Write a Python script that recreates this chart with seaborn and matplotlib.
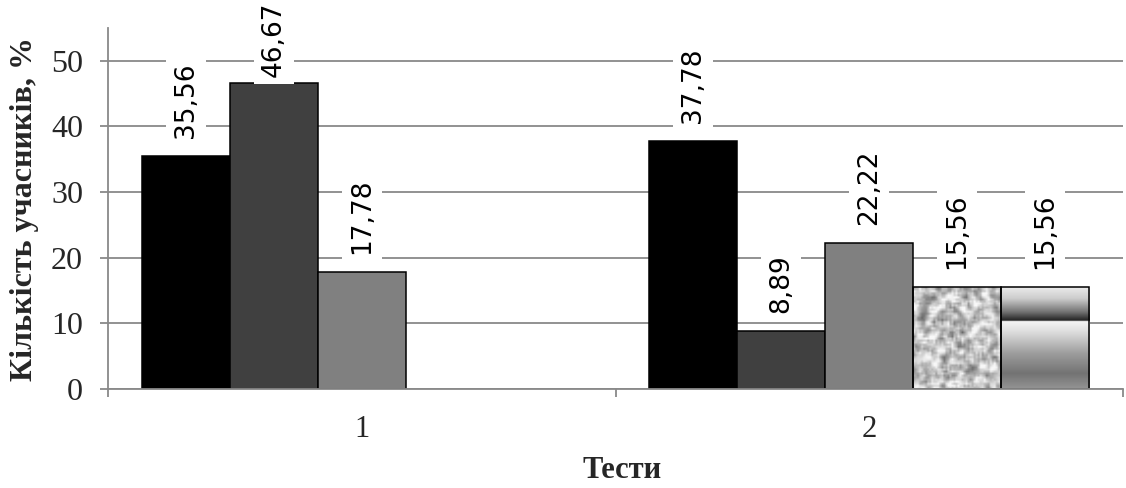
import numpy as np
import pandas as pd
import matplotlib
matplotlib.use("Agg")
import matplotlib.pyplot as plt
import seaborn as sns

# ---------------- data ----------------
tests = ["1", "2"]
series = ["Варіант 1", "Варіант 2", "Варіант 3", "Варіант 4", "Варіант 5"]
test1_values = [35.56, 46.67, 17.78]
test2_values = [37.78, 8.89, 22.22, 15.56, 15.56]
y_ticks = [0, 10, 20, 30, 40, 50]
y_label = "Кількість учасників, %"
x_label = "Тести"

rows = []
for s, v in zip(series, test1_values):
    rows.append({"test": tests[0], "series": s, "value": v})
for s, v in zip(series, test2_values):
    rows.append({"test": tests[1], "series": s, "value": v})
df = pd.DataFrame(rows)

# ---------------- style ----------------
sns.set_style("white")
plt.rcParams["font.family"] = ["Liberation Serif", "DejaVu Serif"]
grid_col = "#898989"
colors = ["#000000", "#404040", "#808080", "#c8c8c8", "#a0a0a0"]

W, H = 1126, 488
fig = plt.figure(figsize=(W / 100, H / 100), dpi=100)
ax = fig.add_axes([108 / W, 1 - 389 / H, (1123 - 108) / W, (389 - 28) / H])

sns.barplot(data=df, x="test", y="value", hue="series", order=tests,
            hue_order=series, palette=colors, saturation=1, width=0.867,
            edgecolor="black", linewidth=1.1, errorbar=None, legend=False, ax=ax)

ymax = 55
ax.set_ylim(0, ymax)
ax.set_xlim(-0.5, 1.5)

# textures for series 4 and 5
rng = np.random.default_rng(11)
def granite(h, w):
    n = rng.random((h + 2, w + 2))
    n = (n[:-2, :-2] + n[1:-1, :-2] + n[2:, :-2] + n[:-2, 1:-1] + n[1:-1, 1:-1]
         + n[2:, 1:-1] + n[:-2, 2:] + n[1:-1, 2:] + n[2:, 2:]) / 9.0
    n = (n - n.mean()) / n.std()
    return np.clip(0.76 + 0.12 * n, 0.25, 0.97)

def metal(h):
    f = np.linspace(0, 1, h)
    nodes = [0.0, 0.12, 0.25, 0.335, 0.34, 0.45, 0.65, 0.85, 1.0]
    vals = [0.93, 0.80, 0.45, 0.13, 0.96, 0.86, 0.62, 0.45, 0.58]
    col = np.interp(f, nodes, vals)
    return np.tile(col[:, None], (1, 4))

for idx, cont in enumerate(ax.containers):
    if idx < 3:
        continue
    for bar in cont:
        h = bar.get_height()
        if not np.isfinite(h) or h <= 0:
            continue
        x0 = bar.get_x()
        x1 = x0 + bar.get_width()
        tex = granite(50, 44) if idx == 3 else metal(200)
        bar.set_facecolor("none")
        im = ax.imshow(tex, extent=[x0, x1, 0, h], aspect="auto", cmap="gray",
                       vmin=0, vmax=1, interpolation="bilinear", zorder=0.95, origin="upper")
        im.set_clip_path(bar)

ax.set_ylim(0, ymax)
ax.set_xlim(-0.5, 1.5)

# value labels
px_per_unit = (389 - 28) / ymax
for cont in ax.containers:
    for bar in cont:
        h = bar.get_height()
        if not np.isfinite(h) or h <= 0:
            continue
        off_px = 18 if h + (18 + 75) / px_per_unit <= ymax else 6
        ax.annotate(f"{h:.2f}".replace(".", ","),
                    xy=(bar.get_x() + bar.get_width() / 2, h),
                    xytext=(0, off_px * 0.72), textcoords="offset points",
                    rotation=90, ha="center", va="bottom", fontsize=19,
                    family="DejaVu Sans", color="black", annotation_clip=False,
                    bbox=dict(facecolor="white", edgecolor="none", pad=5.0), zorder=5)

# axes styling
ax.set_axisbelow(True)
ax.yaxis.grid(True, color=grid_col, linewidth=1.3)
ax.xaxis.grid(False)
for s in ["top", "right"]:
    ax.spines[s].set_visible(False)
for s in ["left", "bottom"]:
    ax.spines[s].set_color(grid_col)
    ax.spines[s].set_linewidth(1.3)

ax.set_yticks(y_ticks)
ax.set_yticklabels([str(t) for t in y_ticks])
ax.tick_params(axis="y", length=6, width=1.3, color=grid_col, pad=12,
               labelsize=23, direction="out", left=True)
ax.set_xticks([-0.5, 0.5, 1.5])
ax.set_xticklabels(["", "", ""])
ax.set_xticks([0, 1], minor=True)
ax.set_xticklabels(tests, minor=True)
ax.tick_params(axis="x", which="major", length=6, width=1.3, color=grid_col,
               direction="out", bottom=True)
ax.tick_params(axis="x", which="minor", length=0, pad=19, labelsize=22)
ax.set_xlabel("")
ax.set_ylabel("")

fig.text(25 / W, 1 - 209 / H, y_label, rotation=90, ha="center", va="center",
         fontsize=23, fontweight="bold")
fig.text(622 / W, 1 - 470 / H, x_label, ha="center", va="center",
         fontsize=22, fontweight="bold")

fig.savefig("out.png", dpi=100)
